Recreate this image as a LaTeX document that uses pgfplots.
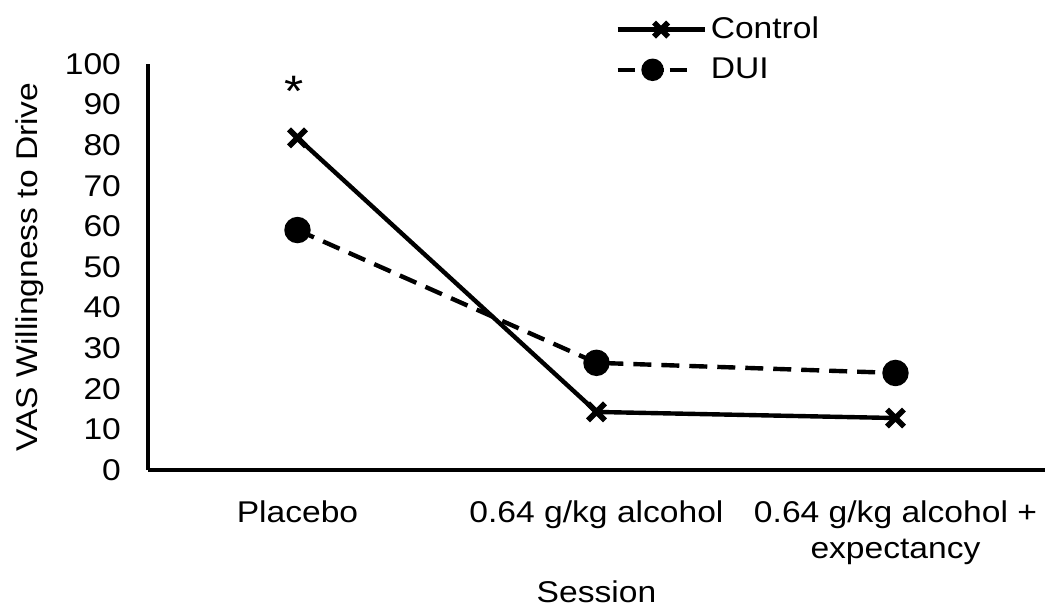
\documentclass[border=0pt]{standalone}
\usepackage{fontspec}
\setmainfont{Liberation Sans}[FakeStretch=1.12]
\usepackage{pgfplots}
\pgfplotsset{compat=1.18}
\begin{document}
\begin{tikzpicture}
\begin{axis}[
  scale only axis,
  width=448.5pt, height=203pt,
  xmin=-0.5, xmax=2.5, ymin=0, ymax=100,
  axis x line*=bottom, axis y line*=left,
  axis line style={line width=2pt, -},
  xtick={0,1,2},
  xticklabels={Placebo, 0.64 g/kg alcohol, {0.64 g/kg alcohol +\\expectancy}},
  xticklabel style={align=center, font=\fontsize{15}{18}\selectfont},
  ytick={0,10,...,100},
  yticklabel style={font=\fontsize{15}{17}\selectfont},
  /pgf/number format/assume math mode=true,
  major tick length=0pt,
  xticklabel shift=12pt,
  yticklabel shift=10pt,
  xlabel={Session},
  ylabel={VAS Willingness to Drive},
  label style={font=\fontsize{15}{17}\selectfont},
  xlabel style={at={(axis description cs:0.5,-0.30)}, anchor=center},
  ylabel style={at={(axis description cs:-0.1315,0.5)}, anchor=center},
  clip=false,
  legend style={at={(0.5206,1.126)}, anchor=north west, draw=none, fill=none,
    font=\fontsize{15}{17}\selectfont, row sep=4pt, inner sep=0pt},
  legend cell align=left,
]
\addplot[black, line width=2.2pt, mark=x, mark size=6pt,
  mark options={solid, line width=2.8pt},
  legend image code/.code={
    \draw[black, line width=2.2pt] (0pt,0pt) -- (43.5pt,0pt);
    \draw[black, line width=2.8pt, mark=x, mark size=5pt] plot coordinates {(21.75pt,0pt)};
  }]
  coordinates {(0,81.8) (1,14.3) (2,12.8)};
\addlegendentry{Control}
\addplot[black, line width=2.2pt, dash pattern=on 9pt off 5pt, mark=*, mark size=5.5pt,
  mark options={solid},
  legend image code/.code={
    \draw[black, line width=2.2pt] (0pt,0pt) -- (8.5pt,0pt);
    \draw[black, line width=2.2pt] (26pt,0pt) -- (34.5pt,0pt);
    \draw[black, line width=2pt] (17.5pt,0pt) -- (23pt,0pt);
    \draw[black, mark=*, mark size=4.5pt] plot coordinates {(17.5pt,0pt)};
  }]
  coordinates {(0,59.1) (1,26.4) (2,23.9)};
\addlegendentry{DUI}
\node at (axis cs:-0.01,93.3) {\fontsize{22}{22}\selectfont *};
\end{axis}
\pgfresetboundingbox
\path[shift={(current axis.south west)}] (-74pt,-70.5pt) rectangle (451.5pt,235pt);
\end{tikzpicture}
\end{document}
